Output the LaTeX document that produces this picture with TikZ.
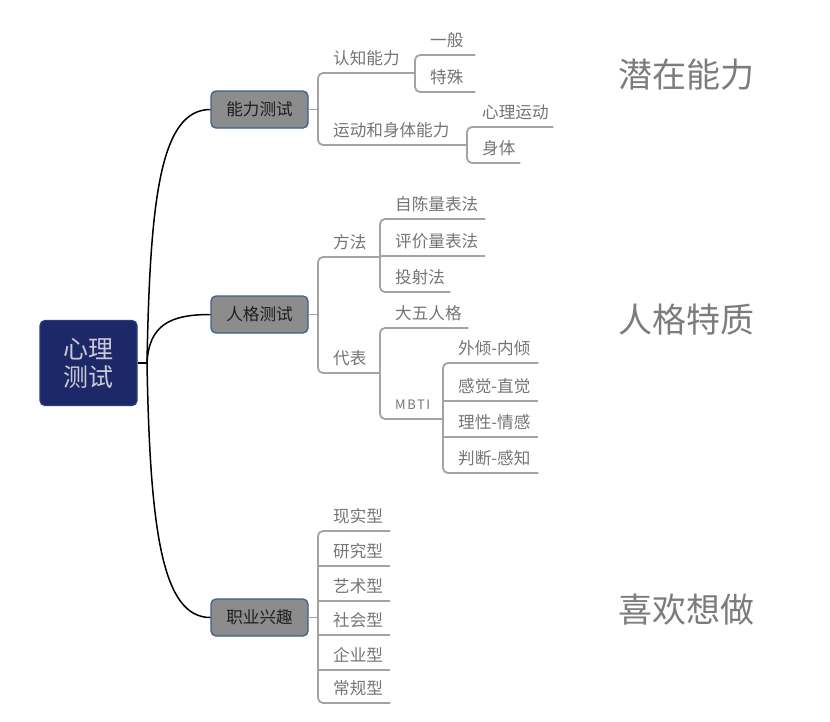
\documentclass[tikz,border=0pt]{standalone}
\usepackage{fontspec}
\setmainfont{Noto Sans CJK SC}
\definecolor{leafc}{HTML}{747474}
\definecolor{linec}{HTML}{A3A3A3}
\definecolor{topicf}{HTML}{8C8C8C}
\definecolor{topicb}{HTML}{3E5F8F}
\definecolor{topict}{HTML}{1E1E1E}
\definecolor{rootf}{HTML}{1D2868}
\definecolor{rootb}{HTML}{2C3C84}
\definecolor{roott}{HTML}{C9CAD6}
\definecolor{sidec}{HTML}{7C7C7C}
\newcommand\lf[2]{\makebox[#1pt][l]{\hspace*{15pt}#2}}
\begin{document}
\begin{tikzpicture}[x=1pt,y=-1pt,
  leaf/.style={anchor=south west, inner sep=0pt, text height=14pt, text depth=8pt,
    font=\fontsize{16.6}{18}\selectfont, text=leafc},
  gline/.style={draw=linec, line width=1.8pt},
  bracket/.style={gline, rounded corners=5pt},
  topic/.style={draw=topicb, line width=1.3pt, fill=topicf, rounded corners=5pt,
    minimum width=97pt, minimum height=37pt, inner sep=0pt,
    font=\fontsize{16.6}{18}\selectfont, text=topict},
  rootbox/.style={draw=rootb, line width=1.3pt, fill=rootf, rounded corners=5pt,
    minimum width=97pt, minimum height=85pt, inner sep=0pt, align=center,
    font=\fontsize{25}{28}\selectfont, text=roott},
  mainline/.style={draw=black, line width=1.5pt},
  side/.style={font=\fontsize{34}{40}\selectfont, text=sidec}]
\useasboundingbox (0,0) rectangle (830,721);

% root and topics
\node[rootbox] (root) at (88.5,363) {心理\\测试};
\node[topic] (t1) at (259.5,109.5) {能力测试};
\node[topic] (t2) at (259.5,314.5) {人格测试};
\node[topic] (t3) at (259.5,617.5) {职业兴趣};
\coordinate (hub) at (147,363);
\draw[mainline] (root.east) -- (hub);
\draw[mainline] (hub) .. controls (150,200) and (160,109.5) .. (t1.west);
\draw[mainline] (hub) .. controls (149,325) and (170,314.5) .. (t2.west);
\draw[mainline] (hub) .. controls (150,530) and (162,617.5) .. (t3.west);

% side labels
\node[side] (s1) at (686,75) {潜在能力};
\node[side] (s2) at (686,320) {人格特质};
\node[side] (s3) at (686,610) {喜欢想做};

% group 1
\node[leaf] (a1) at (318,73) {\lf{97}{认知能力}};
\node[leaf] (a2) at (318,145) {\lf{149}{运动和身体能力}};
\node[leaf] (a11) at (415,55) {\lf{60}{一般}};
\node[leaf] (a12) at (415,92) {\lf{60}{特殊}};
\node[leaf] (a21) at (467,127) {\lf{86}{心理运动}};
\node[leaf] (a22) at (467,163) {\lf{53}{身体}};
\draw[gline] (t1.east) -- (t1.east -| a1.south west);
\draw[bracket] (a1.south east) -- (a1.south west) -- (a2.south west) -- (a2.south east);
\draw[bracket] (a11.south east) -- (a11.south west) -- (a12.south west) -- (a12.south east);
\draw[bracket] (a21.south east) -- (a21.south west) -- (a22.south west) -- (a22.south east);

% group 2
\node[leaf] (b1) at (318,257) {\lf{62}{方法}};
\node[leaf] (b2) at (318,373) {\lf{62}{代表}};
\node[leaf] (b11) at (380,219) {\lf{105}{自陈量表法}};
\node[leaf] (b12) at (380,256) {\lf{105}{评价量表法}};
\node[leaf] (b13) at (380,292) {\lf{70}{投射法}};
\node[leaf] (b21) at (380,328) {\lf{88}{大五人格}};
\node[leaf, font=\fontsize{13}{15}\selectfont\addfontfeatures{LetterSpace=12}, text depth=9pt] (b22) at (380,419) {\lf{63}{MBTI}};
\node[leaf] (c1) at (443,363) {\lf{95}{外倾-内倾}};
\node[leaf] (c2) at (443,401) {\lf{95}{感觉-直觉}};
\node[leaf] (c3) at (443,437) {\lf{95}{理性-情感}};
\node[leaf] (c4) at (443,473) {\lf{95}{判断-感知}};
\draw[gline] (t2.east) -- (t2.east -| b1.south west);
\draw[bracket] (b1.south east) -- (b1.south west) -- (b2.south west) -- (b2.south east);
\draw[bracket] (b11.south east) -- (b11.south west) -- (b13.south west) -- (b13.south east);
\draw[gline] (b12.south west) -- (b12.south east);
\draw[bracket] (b21.south east) -- (b21.south west) -- (b22.south west) -- (b22.south east);
\draw[bracket] (c1.south east) -- (c1.south west) -- (c4.south west) -- (c4.south east);
\draw[gline] (c2.south west) -- (c2.south east);
\draw[gline] (c3.south west) -- (c3.south east);

% group 3
\node[leaf] (d1) at (318,531) {\lf{72}{现实型}};
\node[leaf] (d2) at (318,566) {\lf{72}{研究型}};
\node[leaf] (d3) at (318,601) {\lf{72}{艺术型}};
\node[leaf] (d4) at (318,635) {\lf{72}{社会型}};
\node[leaf] (d5) at (318,670) {\lf{72}{企业型}};
\node[leaf] (d6) at (318,703) {\lf{72}{常规型}};
\draw[gline] (t3.east) -- (t3.east -| d1.south west);
\draw[bracket] (d1.south east) -- (d1.south west) -- (d6.south west) -- (d6.south east);
\draw[gline] (d2.south west) -- (d2.south east);
\draw[gline] (d3.south west) -- (d3.south east);
\draw[gline] (d4.south west) -- (d4.south east);
\draw[gline] (d5.south west) -- (d5.south east);
\end{tikzpicture}
\end{document}
